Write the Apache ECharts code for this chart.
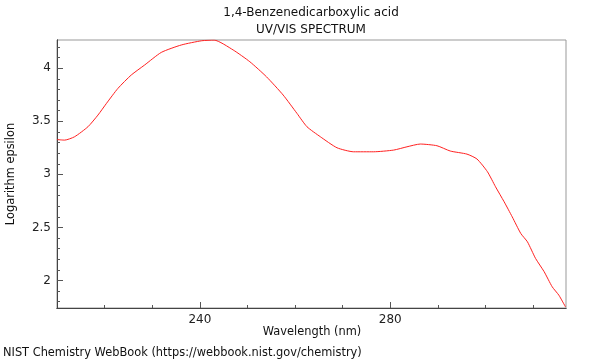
<!DOCTYPE html>
<html>
<head>
<meta charset="utf-8">
<script src="https://cdn.jsdelivr.net/npm/echarts@6/dist/echarts.min.js"></script>
<style>
  html, body { margin: 0; padding: 0; background: #fff; }
  #main { width: 600px; height: 360px; }
</style>
</head>
<body>
<div id="main"></div>
<script>
// values
var wavelengths = [210, 211.6, 213.7, 216.5, 218.6, 220.4, 222.8, 225.6, 228.4, 231.9, 236.1, 240.4, 243,
    247, 250.5, 254, 257.5, 260.4, 262.5, 265.3, 268.8, 272.3, 276.5, 280.7, 283.5, 286.3, 289.8,
    292.6, 296.1, 298.2, 300.4, 302.1, 303.9, 305.6, 307.4, 308.8, 310.5, 312.3, 314, 315.4, 316.8];
var logEpsilon = [3.328, 3.323, 3.355, 3.449, 3.559, 3.67, 3.811, 3.937, 4.031, 4.15, 4.22, 4.26, 4.266,
    4.173, 4.062, 3.92, 3.748, 3.575, 3.449, 3.355, 3.251, 3.213, 3.213, 3.229, 3.26, 3.286, 3.27,
    3.22, 3.191, 3.145, 3.025, 2.883, 2.742, 2.6, 2.443, 2.364, 2.208, 2.083, 1.94, 1.861, 1.75];

var xMajorTicks = [240, 280];
var xMinorTicks = [220, 230, 240, 250, 260, 270, 280, 290, 300, 310];
var yMajorTicks = [2, 2.5, 3, 3.5, 4];
var yMinorTicks = [1.8, 1.9, 2, 2.1, 2.2, 2.3, 2.4, 2.5, 2.6, 2.7, 2.8, 2.9, 3, 3.1, 3.2, 3.3, 3.4,
    3.5, 3.6, 3.7, 3.8, 3.9, 4, 4.1, 4.2];

var xMin = 210, xMax = 316.9, yMin = 1.74, yMax = 4.267;

var points = wavelengths.map(function (w, i) { return [w, logEpsilon[i]]; });

var font = 'DejaVu Sans';
var chart = echarts.init(document.getElementById('main'));

function xAxisDef(ticks, len, withLabels) {
    return {
        type: 'value', min: xMin, max: xMax, position: 'bottom',
        axisLine: { show: true, lineStyle: { color: '#444', width: 1 } },
        axisTick: { show: true, inside: true, length: len, customValues: ticks, lineStyle: { color: '#555' } },
        axisLabel: withLabels ? { show: true, customValues: xMajorTicks, color: '#222', fontSize: 12, fontFamily: font, margin: 6 } : { show: false },
        splitLine: { show: false }
    };
}
function yAxisDef(ticks, len, withLabels) {
    return {
        type: 'value', min: yMin, max: yMax, position: 'left',
        axisLine: { show: true, lineStyle: { color: '#444', width: 1 } },
        axisTick: { show: true, inside: true, length: len, customValues: ticks, lineStyle: { color: '#555' } },
        axisLabel: withLabels ? { show: true, customValues: yMajorTicks, color: '#222', fontSize: 12, fontFamily: font, margin: 6 } : { show: false },
        splitLine: { show: false }
    };
}

function label(text, x, y, size, align, rot) {
    return {
        type: 'text', x: x, y: y, rotation: rot || 0,
        style: { text: text, font: size + 'px "DejaVu Sans"', fill: '#111', align: align, verticalAlign: 'middle' }
    };
}

var option = {
    backgroundColor: '#fff',
    animation: false,
    grid: { left: 57, right: 34, top: 40, bottom: 52, show: true, borderColor: '#999', borderWidth: 1 },
    xAxis: [xAxisDef(xMinorTicks, 3, false), xAxisDef(xMajorTicks, 6, true)],
    yAxis: [yAxisDef(yMinorTicks, 3, false), yAxisDef(yMajorTicks, 6, true)],
    graphic: [
        label('1,4-Benzenedicarboxylic acid', 311, 13, 12, 'center'),
        label('UV/VIS SPECTRUM', 311, 30, 12, 'center'),
        label('Wavelength (nm)', 312, 332, 11.4, 'center'),
        label('Logarithm epsilon', 11, 174, 11.4, 'center', Math.PI / 2),
        label('NIST Chemistry WebBook (https://webbook.nist.gov/chemistry)', 3, 353, 11.4, 'left')
    ],
    series: [{
        type: 'line',
        data: points,
        showSymbol: false,
        smooth: 0.2,
        lineStyle: { color: '#ff2020', width: 1 }
    }]
};
chart.setOption(option);
</script>
</body>
</html>
